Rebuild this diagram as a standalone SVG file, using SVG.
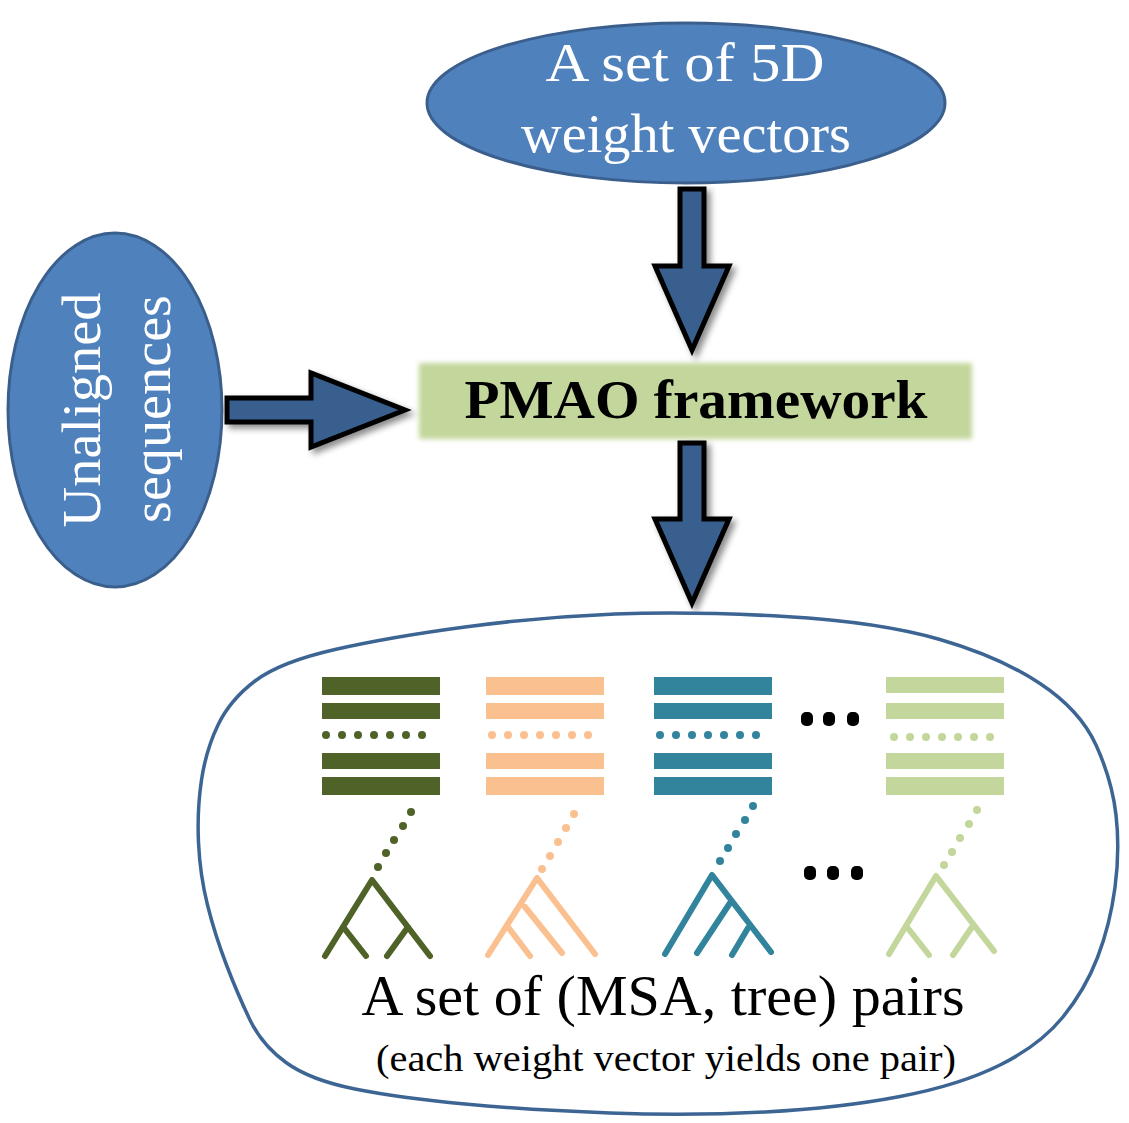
<svg xmlns="http://www.w3.org/2000/svg" width="1129" height="1123" viewBox="0 0 1129 1123">
<defs>
<filter id="shadow" x="-30%" y="-30%" width="160%" height="160%">
<feDropShadow dx="4" dy="4" stdDeviation="3" flood-color="#000" flood-opacity="0.45"/>
</filter>
<filter id="soft" x="-5%" y="-20%" width="110%" height="140%">
<feGaussianBlur stdDeviation="2.5"/>
</filter>
<style>
.oval{fill:#4F81BD;stroke:#3B5F8C;stroke-width:3}
.wt{fill:#fff;font-family:"Liberation Serif","DejaVu Serif",serif;font-size:54px;text-anchor:middle}
.arrow{fill:#385F8E;stroke:#000;stroke-width:5;stroke-linejoin:miter;filter:url(#shadow)}
.blob{fill:#fff;stroke:#3D6594;stroke-width:3.5}
.bt{fill:#000;font-family:"Liberation Serif","DejaVu Serif",serif;text-anchor:middle}
.tree{fill:none;stroke-width:6;stroke-linecap:round;stroke-linejoin:round}
.g1{fill:#4F6228;stroke:#4F6228}
.g2{fill:#FAC090;stroke:#FAC090}
.g3{fill:#31849B;stroke:#31849B}
.g4{fill:#C3D69B;stroke:#C3D69B}
.bar{stroke:none}
.dot{stroke:none}
</style>
</defs>

<g id="node-weights">
<ellipse class="oval" cx="686" cy="103" rx="259" ry="80"/>
<text class="wt" x="685" y="81" textLength="279" lengthAdjust="spacingAndGlyphs">A set of  5D</text>
<text class="wt" x="686" y="152" textLength="330" lengthAdjust="spacingAndGlyphs">weight vectors</text>
</g>

<g id="node-sequences">
<ellipse class="oval" cx="115" cy="410" rx="107" ry="177"/>
<text class="wt" transform="translate(100,410) rotate(-90)" x="0" y="0" textLength="235" lengthAdjust="spacingAndGlyphs">Unaligned</text>
<text class="wt" transform="translate(170,409) rotate(-90)" x="0" y="0" textLength="228" lengthAdjust="spacingAndGlyphs">sequences</text>
</g>

<g id="node-pmao">
<rect x="419" y="363" width="553" height="76" fill="#C3D69B" filter="url(#soft)"/>
<text class="bt" x="696" y="418" font-size="54" font-weight="bold" textLength="463" lengthAdjust="spacingAndGlyphs">PMAO framework</text>
</g>

<g id="connectors">
<polygon class="arrow" points="680,189 704,189 704,266 729,266 692,350 655,266 680,266"/>
<polygon class="arrow" points="227,398 311,398 311,373 405,410 311,447 311,422 227,422"/>
<polygon class="arrow" points="680,443 704,443 704,519 729,519 692,603 655,519 680,519"/>
</g>

<g id="node-results">
<path class="blob" d="M 785,616.5 Q 880,622 940,639.5 Q 1000,657 1040,683.5 Q 1080,710 1096,745 Q 1112,780 1116,815 Q 1120,850 1115,887.5 Q 1110,925 1097.5,957.5 Q 1085,990 1062.5,1017.5 Q 1040,1045 1000,1065 Q 960,1085 900,1096.5 Q 840,1108 765,1112 Q 690,1116 610,1113 Q 530,1110 465,1104 Q 400,1098 355,1089 Q 310,1080 286,1062.5 Q 262,1045 250,1020 Q 238,995 226.5,965 Q 215,935 207.5,905 Q 200,875 198.5,842.5 Q 197,810 201.5,780 Q 206,750 218,725 Q 230,700 255,681 Q 280,662 335,649.5 Q 390,637 465,627 Q 540,617 615,614 Q 690,611 785,616.5 Z"/>

<g id="pair-1" class="g1">
<rect class="bar" x="322" y="677" width="118" height="18"/>
<rect class="bar" x="322" y="703" width="118" height="16"/>
<rect class="bar" x="322" y="753" width="118" height="16"/>
<rect class="bar" x="322" y="777" width="118" height="18"/>
<g class="dot"><circle cx="326" cy="735" r="4"/><circle cx="342" cy="735" r="4"/><circle cx="358" cy="735" r="4"/><circle cx="374" cy="735" r="4"/><circle cx="390" cy="735" r="4"/><circle cx="406" cy="735" r="4"/><circle cx="422" cy="735" r="4"/></g>
<g class="dot"><circle cx="411" cy="812" r="4"/><circle cx="403" cy="826" r="4"/><circle cx="394" cy="840" r="4"/><circle cx="386" cy="853" r="4"/><circle cx="378" cy="867" r="4"/></g>
<path class="tree" d="M325,956 L372,880 L430,956 M344,928 L366,956 M408,927 L387,956"/>
</g>

<g id="pair-2" class="g2">
<rect class="bar" x="486" y="677" width="118" height="18"/>
<rect class="bar" x="486" y="703" width="118" height="16"/>
<rect class="bar" x="486" y="753" width="118" height="16"/>
<rect class="bar" x="486" y="777" width="118" height="18"/>
<g class="dot"><circle cx="492" cy="735" r="4"/><circle cx="508" cy="735" r="4"/><circle cx="524" cy="735" r="4"/><circle cx="540" cy="735" r="4"/><circle cx="556" cy="735" r="4"/><circle cx="572" cy="735" r="4"/><circle cx="588" cy="735" r="4"/></g>
<g class="dot"><circle cx="574" cy="814" r="4"/><circle cx="566" cy="828" r="4"/><circle cx="558" cy="842" r="4"/><circle cx="550" cy="856" r="4"/><circle cx="542" cy="869" r="4"/></g>
<path class="tree" d="M488,955 L537,878 L595,954 M525,907 L562,953 M508,927 L530,956"/>
</g>

<g id="pair-3" class="g3">
<rect class="bar" x="654" y="677" width="118" height="18"/>
<rect class="bar" x="654" y="703" width="118" height="16"/>
<rect class="bar" x="654" y="753" width="118" height="16"/>
<rect class="bar" x="654" y="777" width="118" height="18"/>
<g class="dot"><circle cx="660" cy="735" r="4"/><circle cx="676" cy="735" r="4"/><circle cx="692" cy="735" r="4"/><circle cx="708" cy="735" r="4"/><circle cx="724" cy="735" r="4"/><circle cx="740" cy="735" r="4"/><circle cx="756" cy="735" r="4"/></g>
<g class="dot"><circle cx="753" cy="806" r="4"/><circle cx="745" cy="820" r="4"/><circle cx="736" cy="834" r="4"/><circle cx="728" cy="848" r="4"/><circle cx="720" cy="861" r="4"/></g>
<path class="tree" d="M665,954 L712,875 L771,952 M730,903 L697,953 M748,928 L732,955"/>
</g>

<g id="pair-n" class="g4">
<rect class="bar" x="886" y="677" width="118" height="16"/>
<rect class="bar" x="886" y="703" width="118" height="16"/>
<rect class="bar" x="886" y="753" width="118" height="16"/>
<rect class="bar" x="886" y="777" width="118" height="18"/>
<g class="dot"><circle cx="894" cy="737" r="4"/><circle cx="910" cy="737" r="4"/><circle cx="926" cy="737" r="4"/><circle cx="942" cy="737" r="4"/><circle cx="958" cy="737" r="4"/><circle cx="974" cy="737" r="4"/><circle cx="990" cy="737" r="4"/></g>
<g class="dot"><circle cx="977" cy="810" r="4"/><circle cx="969" cy="824" r="4"/><circle cx="960" cy="838" r="4"/><circle cx="952" cy="852" r="4"/><circle cx="944" cy="865" r="4"/></g>
<path class="tree" d="M889,954 L936,876 L994,951 M907,927 L929,955 M972,927 L953,955"/>
</g>

<g id="ellipsis" fill="#000">
<rect x="801" y="712" width="12" height="14" rx="5"/>
<rect x="823" y="712" width="12" height="14" rx="5"/>
<rect x="847" y="712" width="12" height="14" rx="5"/>
<rect x="804" y="866" width="12" height="14" rx="5"/>
<rect x="827" y="866" width="12" height="14" rx="5"/>
<rect x="851" y="866" width="12" height="14" rx="5"/>
</g>

<text class="bt" x="663" y="1015" font-size="56" textLength="603" lengthAdjust="spacingAndGlyphs">A set of  (MSA, tree) pairs</text>
<text class="bt" x="666" y="1071" font-size="38" textLength="580" lengthAdjust="spacingAndGlyphs">(each weight vector yields one pair)</text>
</g>
</svg>
